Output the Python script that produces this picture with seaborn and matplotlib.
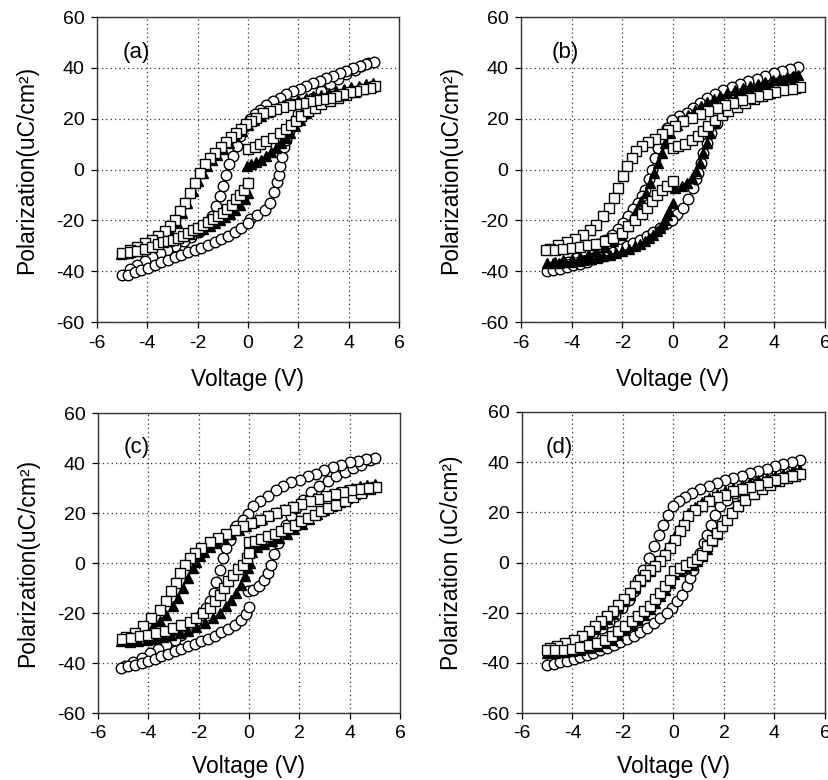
import matplotlib
matplotlib.use("Agg")
import matplotlib.pyplot as plt
import pandas as pd
import seaborn as sns

PANEL_LABELS = ["(a)", "(b)", "(c)", "(d)"]
X_TICKS = [-6, -4, -2, 0, 2, 4, 6]
Y_TICKS = [-60, -40, -20, 0, 20, 40, 60]
X_LABEL = "Voltage (V)"
Y_LABELS = ["Polarization(uC/cm²)", "Polarization(uC/cm²)",
            "Polarization(uC/cm²)", "Polarization (uC/cm²)"]

# ---- panel (a): (voltage, polarization) in sweep order 0 -> +5 -> -5 -> 0
A_CIRCLES = [(0.07,-19.5),(0.36,-17.8),(0.68,-15.8),(0.87,-13.0),(1.03,-9.0),(1.15,-5.1),(1.22,-2.0),(1.27,1.2),(1.35,5.1),(1.42,8.7),(1.52,11.8),(1.62,15.0),(1.79,17.8),(1.99,21.7),(2.25,25.0),(2.58,28.3),(2.91,30.9),(3.25,33.6),(3.58,35.5),(3.9,37.5),(4.24,39.2),(4.5,40.8),(4.77,41.8),(5.0,42.1),
             (4.7,41.4),(4.44,40.8),(4.17,39.9),(3.9,38.8),(3.64,37.9),(3.38,36.8),(3.11,35.9),(2.85,34.9),(2.58,33.9),(2.32,32.9),(2.05,31.8),(1.79,30.7),(1.52,29.6),(1.26,28.3),(0.99,27.0),(0.73,25.3),(0.46,23.4),(0.26,21.7),(0.07,20.0),(-0.15,16.8),(-0.32,13.1),(-0.45,9.2),(-0.61,5.3),(-0.74,2.0),(-0.87,-2.0),(-1.0,-6.6),(-1.11,-10.5),(-1.27,-14.5),(-1.44,-18.4),(-1.68,-22.0),(-1.95,-24.5),(-2.25,-26.5),(-2.55,-28.3),(-2.9,-30.0),(-3.2,-31.6),(-3.5,-33.0),(-3.8,-34.5),(-4.1,-36.0),(-4.4,-37.5),(-4.7,-39.3),(-5.0,-41.5),
             (-4.77,-41.4),(-4.5,-40.5),(-4.24,-39.5),(-3.97,-38.6),(-3.71,-37.5),(-3.44,-36.4),(-3.18,-35.5),(-2.91,-34.5),(-2.65,-33.6),(-2.38,-32.6),(-2.12,-31.6),(-1.85,-30.7),(-1.59,-29.6),(-1.32,-28.6),(-1.06,-27.4),(-0.79,-26.0),(-0.53,-24.6),(-0.26,-23.0),(0.0,-21.0)]
A_TRIANGLES = [(-0.05,1.3),(0.13,2.0),(0.33,2.9),(0.53,3.9),(0.73,5.3),(0.93,6.8),(1.13,8.6),(1.32,10.5),(1.5,12.5),(1.66,14.5),(1.85,17.0),(2.05,19.5),(2.3,22.3),(2.6,24.5),(2.9,26.2),(3.2,27.6),(3.5,28.8),(3.8,29.9),(4.1,31.0),(4.4,32.0),(4.7,33.0),(4.95,34.0),
               (4.7,33.6),(4.4,33.0),(4.1,32.3),(3.8,31.6),(3.5,30.9),(3.2,30.2),(2.9,29.5),(2.6,28.9),(2.3,28.3),(2.0,27.4),(1.7,26.3),(1.4,25.2),(1.1,24.0),(0.8,22.7),(0.5,21.2),(0.25,19.5),(0.0,17.5),(-0.25,15.3),(-0.5,13.0),(-0.75,10.6),(-1.0,8.2),(-1.25,5.8),(-1.45,3.8),(-1.62,1.5),(-1.78,-1.3),(-1.97,-4.6),(-2.17,-8.6),(-2.41,-13.2),(-2.63,-17.1),(-2.83,-21.0),(-3.1,-24.3),(-3.37,-26.3),(-3.7,-27.9),(-4.0,-29.3),(-4.3,-30.6),(-4.6,-31.8),(-4.9,-32.8),(-5.05,-33.3),
               (-4.75,-33.0),(-4.45,-32.0),(-4.15,-30.8),(-3.88,-29.7),(-3.63,-29.0),(-3.37,-28.3),(-3.1,-27.6),(-2.83,-27.0),(-2.57,-26.3),(-2.3,-25.2),(-2.04,-24.3),(-1.78,-23.4),(-1.51,-22.1),(-1.31,-21.0),(-1.11,-20.0),(-0.91,-18.7),(-0.72,-17.4),(-0.52,-15.8),(-0.32,-13.8),(-0.12,-11.8),(0.01,-9.2)]
A_SQUARES = [(0.0,7.9),(0.26,8.8),(0.46,9.9),(0.73,11.2),(0.99,12.5),(1.26,14.2),(1.52,15.8),(1.72,17.4),(1.92,19.1),(2.12,21.0),(2.38,23.0),(2.65,24.3),(2.91,25.7),(3.25,27.0),(3.58,28.3),(3.9,29.3),(4.24,30.5),(4.57,31.6),(4.9,32.6),(5.05,32.8),
             (4.83,32.2),(4.57,31.6),(4.3,30.9),(4.04,30.3),(3.77,29.6),(3.5,28.9),(3.25,28.3),(2.98,27.9),(2.72,27.4),(2.45,27.0),(2.19,26.3),(1.92,25.9),(1.66,25.4),(1.39,24.6),(1.13,23.7),(0.86,23.0),(0.6,22.1),(0.33,20.4),(0.13,19.1),(-0.07,17.8),(-0.26,16.1),(-0.46,14.5),(-0.66,12.9),(-0.87,11.0),(-1.09,8.8),(-1.31,6.6),(-1.51,4.6),(-1.71,2.0),(-1.91,-1.3),(-2.1,-5.3),(-2.3,-9.2),(-2.5,-13.2),(-2.7,-16.4),(-2.9,-19.7),(-3.1,-22.4),(-3.3,-24.3),(-3.56,-26.3),(-3.83,-27.6),(-4.1,-29.0),(-4.4,-30.4),(-4.7,-31.6),(-5.0,-32.8),
             (-4.7,-32.6),(-4.4,-32.1),(-4.1,-31.4),(-3.8,-30.5),(-3.57,-29.2),(-3.37,-28.7),(-3.17,-28.3),(-2.97,-27.6),(-2.77,-27.0),(-2.57,-26.0),(-2.37,-25.0),(-2.17,-23.9),(-1.97,-23.0),(-1.78,-21.7),(-1.58,-20.8),(-1.38,-19.5),(-1.18,-18.4),(-1.0,-17.1),(-0.82,-15.5),(-0.65,-13.8),(-0.48,-11.8),(-0.32,-9.9),(-0.16,-7.9),(0.01,-5.3)]

# ---- panel (b)
B_CIRCLES = [(0.14,-17.7),(0.38,-15.1),(0.61,-11.8),(0.78,-7.2),(0.91,-3.9),(1.0,-1.3),(1.11,2.6),(1.2,6.6),(1.33,10.5),(1.49,14.4),(1.73,18.4),(1.99,21.7),(2.32,24.9),(2.65,27.6),(3.04,30.2),(3.44,32.5),(3.83,34.4),(4.23,36.5),(4.62,38.7),(4.95,40.4),
             (4.62,39.4),(4.3,38.7),(3.97,37.8),(3.64,36.7),(3.31,35.8),(2.98,34.8),(2.65,33.7),(2.32,32.5),(1.99,31.2),(1.66,29.8),(1.33,28.0),(1.07,26.2),(0.8,24.3),(0.54,22.3),(0.25,21.0),(-0.05,19.4),(-0.25,16.4),(-0.45,11.8),(-0.58,8.5),(-0.71,4.6),(-0.84,0.0),(-0.95,-3.9),(-1.11,-7.9),(-1.24,-10.5),(-1.4,-13.1),(-1.57,-15.7),(-1.77,-18.4),(-1.96,-21.0),(-2.16,-23.6),(-2.42,-25.6),(-2.69,-27.6),(-2.95,-29.5),(-3.21,-31.5),(-3.48,-33.1),(-3.81,-34.8),(-4.14,-36.4),(-4.47,-37.7),(-4.73,-38.7),(-4.99,-40.0),
             (-4.73,-39.6),(-4.47,-39.1),(-4.2,-38.3),(-3.94,-37.7),(-3.68,-37.0),(-3.41,-36.2),(-3.15,-35.4),(-2.89,-34.4),(-2.62,-33.5),(-2.36,-32.4),(-2.1,-31.2),(-1.83,-30.2),(-1.57,-28.9),(-1.3,-27.6),(-1.04,-26.2),(-0.78,-24.7),(-0.51,-23.0),(-0.25,-21.0),(-0.03,-19.7)]
B_TRIANGLES = [(0.08,-7.2),(0.34,-6.6),(0.54,-5.2),(0.74,-3.3),(0.91,-0.7),(1.07,2.6),(1.2,6.6),(1.33,10.5),(1.46,14.4),(1.66,18.4),(1.86,21.7),(2.12,24.9),(2.45,27.6),(2.78,29.5),(3.18,31.2),(3.57,32.8),(3.97,34.1),(4.36,35.4),(4.69,36.5),(4.95,37.0),
               (4.75,36.7),(4.5,36.2),(4.23,35.7),(3.95,35.1),(3.65,34.4),(3.35,33.6),(3.04,32.8),(2.75,32.0),(2.45,31.1),(2.15,30.1),(1.86,28.9),(1.6,27.7),(1.35,26.4),(1.1,25.0),(0.85,23.4),(0.6,21.5),(0.35,19.6),(0.14,17.7),(-0.1,14.4),(-0.3,10.5),(-0.45,6.6),(-0.6,2.6),(-0.75,-1.3),(-0.9,-5.2),(-1.07,-9.2),(-1.25,-12.5),(-1.43,-15.7),(-1.62,-19.0),(-1.82,-22.3),(-2.05,-25.6),(-2.36,-28.2),(-2.69,-30.4),(-3.02,-32.2),(-3.35,-33.5),(-3.68,-34.4),(-4.0,-35.2),(-4.33,-35.8),(-4.66,-36.4),(-4.99,-36.7),
               (-4.75,-36.8),(-4.5,-36.7),(-4.25,-36.5),(-4.0,-36.3),(-3.75,-36.0),(-3.5,-35.6),(-3.25,-35.2),(-3.0,-34.8),(-2.75,-34.2),(-2.5,-33.6),(-2.25,-32.8),(-2.0,-32.0),(-1.75,-31.2),(-1.5,-30.2),(-1.3,-29.2),(-1.11,-28.2),(-0.93,-27.0),(-0.78,-25.6),(-0.64,-24.3),(-0.51,-23.0),(-0.41,-21.4),(-0.32,-19.7),(-0.23,-18.0),(-0.14,-16.4),(-0.01,-13.1)]
B_SQUARES = [(0.0,8.5),(0.21,9.2),(0.47,10.2),(0.74,11.5),(1.0,13.1),(1.2,15.1),(1.4,17.3),(1.66,19.4),(1.92,21.3),(2.19,23.0),(2.52,24.7),(2.85,26.2),(3.18,27.8),(3.5,29.1),(3.83,30.2),(4.16,31.1),(4.49,31.8),(4.82,32.2),(5.02,32.4),
             (4.69,31.8),(4.36,31.2),(4.03,30.4),(3.7,29.8),(3.37,28.9),(3.04,28.0),(2.71,27.2),(2.38,26.2),(2.06,25.2),(1.73,24.0),(1.4,23.0),(1.07,21.7),(0.74,20.3),(0.41,19.0),(0.08,17.3),(-0.18,15.7),(-0.45,13.8),(-0.71,12.1),(-0.97,10.8),(-1.24,9.2),(-1.46,7.2),(-1.63,4.6),(-1.83,1.3),(-1.99,-2.6),(-2.16,-7.2),(-2.33,-11.2),(-2.52,-15.1),(-2.75,-18.4),(-3.02,-21.7),(-3.28,-23.9),(-3.54,-25.6),(-3.87,-27.2),(-4.2,-28.6),(-4.53,-29.9),(-4.86,-31.2),(-5.0,-31.8),
             (-4.66,-31.5),(-4.33,-31.2),(-4.0,-30.8),(-3.68,-30.4),(-3.35,-29.9),(-3.02,-29.3),(-2.69,-28.2),(-2.36,-26.9),(-2.03,-24.9),(-1.77,-22.3),(-1.5,-19.9),(-1.24,-17.7),(-1.04,-15.1),(-0.84,-12.5),(-0.65,-10.2),(-0.45,-8.1),(-0.25,-6.6),(-0.01,-4.6)]

# ---- panel (c)
C_CIRCLES = [(-0.04,-11.3),(0.16,-10.7),(0.4,-9.1),(0.58,-6.7),(0.75,-4.0),(0.89,-0.7),(0.98,3.7),(1.15,8.0),(1.32,12.0),(1.48,15.3),(1.68,18.7),(1.88,22.0),(2.14,25.3),(2.47,28.3),(2.8,30.7),(3.13,32.7),(3.47,34.7),(3.8,36.3),(4.13,38.0),(4.46,39.3),(4.79,41.3),(4.99,42.0),
             (4.66,41.6),(4.33,40.9),(4.0,40.3),(3.66,39.3),(3.33,38.3),(3.0,37.1),(2.67,35.7),(2.34,34.7),(2.01,33.3),(1.68,32.3),(1.35,30.9),(1.06,29.1),(0.75,26.7),(0.42,24.7),(0.16,22.7),(-0.04,19.7),(-0.24,17.3),(-0.5,14.7),(-0.74,9.3),(-0.9,6.0),(-1.03,2.0),(-1.16,-2.7),(-1.3,-7.7),(-1.4,-12.0),(-1.56,-15.3),(-1.69,-18.0),(-1.89,-20.7),(-2.16,-24.0),(-2.42,-26.7),(-2.69,-28.7),(-2.95,-30.7),(-3.28,-32.7),(-3.61,-34.4),(-3.94,-36.0),(-4.27,-38.0),(-4.6,-39.7),(-4.93,-41.3),(-5.07,-42.0),
             (-4.8,-41.3),(-4.54,-40.7),(-4.27,-40.0),(-4.01,-39.3),(-3.74,-38.4),(-3.48,-37.3),(-3.21,-36.4),(-2.95,-35.3),(-2.69,-34.3),(-2.42,-33.3),(-2.16,-32.3),(-1.89,-31.3),(-1.63,-30.3),(-1.36,-29.1),(-1.1,-27.7),(-0.83,-26.4),(-0.57,-24.7),(-0.3,-22.7),(-0.1,-20.3),(0.0,-17.7)]
C_TRIANGLES = [(0.03,0.0),(0.1,4.5),(0.3,6.5),(0.6,7.5),(0.9,8.7),(1.2,10.0),(1.5,11.5),(1.8,13.5),(2.1,15.5),(2.4,17.5),(2.7,19.5),(3.0,21.3),(3.3,23.0),(3.6,24.5),(3.9,26.0),(4.2,27.5),(4.5,29.0),(4.8,30.5),(5.0,31.5),
               (4.7,31.4),(4.4,30.8),(4.1,30.1),(3.8,29.4),(3.5,28.6),(3.2,27.8),(2.9,27.0),(2.6,26.1),(2.3,25.1),(2.0,24.1),(1.7,23.0),(1.4,21.8),(1.1,20.5),(0.8,19.2),(0.5,17.8),(0.2,16.3),(-0.1,14.8),(-0.4,13.2),(-0.7,11.5),(-1.0,9.8),(-1.3,8.0),(-1.55,6.3),(-1.78,4.5),(-1.96,2.7),(-2.1,0.3),(-2.22,-2.0),(-2.42,-6.0),(-2.62,-10.0),(-2.82,-14.0),(-3.02,-17.3),(-3.28,-20.7),(-3.54,-23.3),(-3.81,-25.3),(-4.07,-26.7),(-4.4,-28.0),(-4.8,-29.6),(-5.07,-31.3),
               (-4.74,-31.7),(-4.4,-31.3),(-4.07,-30.9),(-3.74,-30.3),(-3.41,-29.6),(-3.08,-28.9),(-2.75,-28.0),(-2.42,-27.1),(-2.09,-25.7),(-1.76,-24.0),(-1.43,-22.0),(-1.16,-20.0),(-0.9,-17.3),(-0.7,-14.7),(-0.5,-12.0),(-0.3,-8.7),(-0.17,-5.3),(-0.04,-2.0)]
C_SQUARES = [(0.0,8.3),(0.22,8.7),(0.49,9.6),(0.75,10.7),(1.02,11.7),(1.28,12.9),(1.55,14.0),(1.81,15.3),(2.08,16.7),(2.34,18.0),(2.61,19.3),(2.87,20.7),(3.13,22.0),(3.47,23.3),(3.8,24.9),(4.13,26.4),(4.46,28.0),(4.79,29.6),(5.03,30.4),
             (4.72,30.0),(4.39,29.6),(4.06,29.1),(3.73,28.4),(3.4,27.6),(3.07,26.7),(2.74,25.7),(2.41,24.7),(2.08,23.6),(1.75,22.4),(1.42,21.3),(1.08,20.0),(0.75,18.7),(0.42,17.3),(0.09,16.0),(-0.24,14.7),(-0.57,13.3),(-0.9,11.6),(-1.23,10.0),(-1.56,8.3),(-1.89,6.0),(-2.16,4.0),(-2.35,2.0),(-2.55,-0.7),(-2.75,-4.0),(-2.91,-8.0),(-3.08,-11.3),(-3.28,-15.3),(-3.54,-18.7),(-3.88,-22.0),(-4.21,-25.3),(-4.54,-28.0),(-4.87,-29.6),(-5.03,-30.4),
             (-4.67,-30.0),(-4.34,-29.3),(-4.01,-28.7),(-3.68,-28.0),(-3.35,-27.1),(-3.02,-26.0),(-2.69,-24.9),(-2.35,-23.7),(-2.09,-22.0),(-1.83,-20.0),(-1.56,-18.0),(-1.36,-15.3),(-1.16,-12.7),(-1.01,-10.0),(-0.83,-7.3),(-0.63,-4.7),(-0.44,-2.4),(-0.24,-0.7),(-0.08,2.0),(0.0,4.0)]

# ---- panel (d)
D_CIRCLES = [(-0.07,-18.1),(0.13,-15.5),(0.33,-12.8),(0.53,-9.5),(0.66,-6.2),(0.79,-2.9),(0.92,0.5),(1.06,3.8),(1.19,7.8),(1.32,11.1),(1.48,15.1),(1.65,19.1),(1.85,22.4),(2.11,25.0),(2.44,27.7),(2.77,29.7),(3.1,31.4),(3.43,33.0),(3.76,34.6),(4.09,35.9),(4.42,37.3),(4.75,38.6),(5.01,40.7),
             (4.68,40.0),(4.35,39.2),(4.02,38.3),(3.69,37.4),(3.36,36.6),(3.03,35.7),(2.7,34.6),(2.37,33.7),(2.04,32.8),(1.72,31.7),(1.39,30.6),(1.06,29.3),(0.73,27.7),(0.46,26.1),(0.2,24.4),(0.0,22.4),(-0.2,19.1),(-0.4,15.1),(-0.59,11.1),(-0.79,6.4),(-0.99,1.8),(-1.19,-2.9),(-1.39,-6.8),(-1.58,-11.5),(-1.78,-14.8),(-2.04,-18.1),(-2.31,-21.2),(-2.57,-23.9),(-2.84,-26.1),(-3.17,-28.1),(-3.5,-30.1),(-3.83,-32.1),(-4.16,-34.1),(-4.49,-36.1),(-4.82,-38.1),(-5.01,-40.7),
             (-4.75,-40.3),(-4.49,-39.8),(-4.22,-39.1),(-3.96,-38.5),(-3.69,-37.7),(-3.43,-36.9),(-3.17,-36.1),(-2.9,-35.0),(-2.64,-34.1),(-2.37,-33.0),(-2.11,-31.8),(-1.85,-30.5),(-1.58,-29.2),(-1.32,-27.7),(-1.06,-26.1),(-0.79,-24.1),(-0.53,-22.1),(-0.26,-20.1)]
D_TRIANGLES = [(0.03,-4.5),(0.26,-3.2),(0.5,-2.0),(0.73,-0.8),(0.92,0.6),(1.12,2.5),(1.32,5.5),(1.52,8.5),(1.72,11.5),(1.91,14.5),(2.11,17.5),(2.31,20.3),(2.57,23.5),(2.84,26.0),(3.17,28.5),(3.5,30.5),(3.83,32.2),(4.16,33.7),(4.49,35.0),(4.82,36.0),(5.01,36.8),
               (4.68,36.2),(4.35,35.4),(4.02,34.6),(3.69,33.7),(3.36,32.8),(3.03,31.8),(2.7,30.8),(2.37,29.7),(2.04,28.5),(1.72,27.2),(1.39,25.6),(1.12,24.0),(0.86,22.2),(0.59,19.8),(0.4,17.0),(0.24,14.2),(0.07,11.0),(-0.13,7.3),(-0.33,4.2),(-0.53,1.2),(-0.73,-1.2),(-0.92,-3.2),(-1.12,-5.4),(-1.32,-7.5),(-1.52,-10.2),(-1.74,-13.0),(-1.95,-15.5),(-2.18,-17.8),(-2.4,-20.4),(-2.64,-22.5),(-2.86,-24.5),(-3.1,-26.4),(-3.36,-28.4),(-3.63,-30.3),(-3.96,-31.8),(-4.29,-33.2),(-4.62,-34.4),(-4.88,-35.3),(-5.01,-36.0),
               (-4.68,-36.0),(-4.35,-35.8),(-4.02,-35.4),(-3.69,-34.8),(-3.36,-34.1),(-3.03,-33.2),(-2.7,-32.0),(-2.44,-30.7),(-2.18,-28.8),(-1.91,-26.8),(-1.65,-24.8),(-1.39,-22.8),(-1.16,-20.8),(-0.92,-18.5),(-0.73,-16.0),(-0.53,-13.5),(-0.33,-10.8),(-0.13,-8.0)]
D_SQUARES = [(0.03,-3.5),(0.26,-2.2),(0.5,-1.1),(0.73,0.1),(0.92,1.4),(1.12,3.1),(1.32,6.4),(1.52,9.1),(1.72,11.8),(1.91,14.4),(2.11,17.1),(2.31,19.7),(2.57,22.7),(2.84,25.0),(3.17,27.4),(3.5,29.3),(3.83,31.0),(4.16,32.4),(4.49,33.7),(4.82,34.6),(5.01,35.4),
             (4.68,34.6),(4.35,33.7),(4.02,33.0),(3.69,32.0),(3.36,31.0),(3.03,30.1),(2.7,29.3),(2.37,28.4),(2.04,27.0),(1.72,26.0),(1.39,24.4),(1.12,22.7),(0.86,21.1),(0.59,18.7),(0.4,15.1),(0.24,12.4),(0.07,9.1),(-0.13,5.8),(-0.33,3.1),(-0.53,0.5),(-0.73,-1.5),(-0.92,-2.9),(-1.12,-4.9),(-1.32,-6.8),(-1.52,-9.5),(-1.74,-12.2),(-1.95,-14.6),(-2.18,-16.8),(-2.4,-19.5),(-2.64,-21.5),(-2.86,-23.5),(-3.1,-25.4),(-3.36,-27.4),(-3.63,-29.4),(-3.96,-30.8),(-4.29,-32.1),(-4.62,-33.2),(-4.88,-34.1),(-5.01,-35.0),
             (-4.68,-35.0),(-4.35,-34.8),(-4.02,-34.4),(-3.69,-33.7),(-3.36,-33.0),(-3.03,-32.1),(-2.7,-30.8),(-2.44,-29.4),(-2.18,-27.4),(-1.91,-25.4),(-1.65,-23.5),(-1.39,-21.5),(-1.16,-19.5),(-0.92,-17.2),(-0.73,-14.6),(-0.53,-12.2),(-0.33,-9.5),(-0.13,-6.8)]

PANELS = [
    (A_CIRCLES, A_TRIANGLES, A_SQUARES),
    (B_CIRCLES, B_TRIANGLES, B_SQUARES),
    (C_CIRCLES, C_TRIANGLES, C_SQUARES),
    (D_CIRCLES, D_TRIANGLES, D_SQUARES),
]
LABEL_X = [-5.0, -4.8, -5.0, -5.05]

sns.set_theme(style="white")
plt.rcParams["font.family"] = ["Liberation Sans", "DejaVu Sans"]
plt.rcParams["axes.unicode_minus"] = False
plt.rcParams["text.color"] = "black"
plt.rcParams["axes.labelcolor"] = "black"

W, H = 829, 780
fig = plt.figure(figsize=(W / 100, H / 100), dpi=100)
fig.patch.set_facecolor("white")
boxes = [(97, 399, 17, 322), (521, 825, 17, 322), (98, 400, 413, 713), (522, 825, 412, 713)]

styles = [
    dict(marker="o", markersize=7.6, markerfacecolor="white"),
    dict(marker="^", markersize=6.6, markerfacecolor="black"),
    dict(marker="s", markersize=6.8, markerfacecolor="white"),
]

for i, (box, series) in enumerate(zip(boxes, PANELS)):
    l, r, t, b = box
    ax = fig.add_axes([l / W, 1 - b / H, (r - l) / W, (b - t) / H])
    for pts, st in zip(series, styles):
        df = pd.DataFrame(pts, columns=["V", "P"])
        sns.lineplot(data=df, x="V", y="P", sort=False, estimator=None, ax=ax,
                     color="black", linewidth=0.7, markeredgecolor="black",
                     markeredgewidth=1.0, **st)
    ax.set_xlim(-6, 6)
    ax.set_ylim(-60, 60)
    ax.set_xticks(X_TICKS)
    ax.set_yticks(Y_TICKS)
    ax.set_xticklabels([str(v) for v in X_TICKS])
    ax.set_yticklabels([str(v) for v in Y_TICKS])
    ax.grid(True, linestyle=(0, (1, 2.5)), color="#333333", linewidth=0.9)
    ax.set_axisbelow(True)
    for s in ax.spines.values():
        s.set_color("#333333")
        s.set_linewidth(1.0)
    ax.tick_params(axis="both", direction="out", length=4, width=0.9,
                   labelsize=14, pad=5, colors="black", bottom=True, left=True)
    ax.set_xlabel(X_LABEL, fontsize=16.5, labelpad=12 if i < 2 else 9, color="black")
    ax.set_ylabel(Y_LABELS[i], fontsize=16.5, labelpad=13, color="black")
    ax.text(LABEL_X[i], 46, PANEL_LABELS[i], fontsize=16, ha="left", va="center",
            color="black")

fig.savefig("out.png", dpi=100, facecolor="white")
